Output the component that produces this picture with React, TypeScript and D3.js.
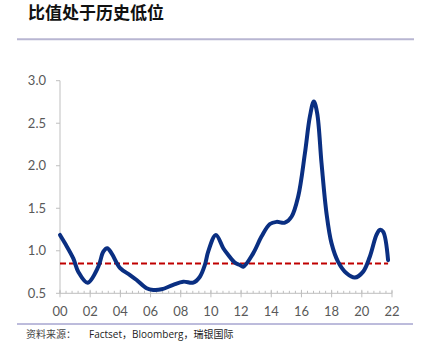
import React from "react";
import * as d3 from "d3";

const years = [2000.0, 2000.33, 2000.88, 2001.21, 2001.83, 2002.54, 2002.87, 2003.13, 2003.42, 2003.97, 2004.64, 2005.08, 2005.74, 2006.18, 2006.73, 2007.5, 2008.17, 2008.83, 2009.27, 2009.6, 2009.82, 2010.33, 2010.82, 2011.15, 2011.59, 2011.92, 2012.14, 2012.8, 2013.36, 2013.91, 2014.35, 2014.9, 2015.34, 2015.78, 2016.23, 2016.56, 2016.82, 2017.04, 2017.33, 2017.66, 2017.99, 2018.43, 2018.99, 2019.54, 2020.09, 2020.53, 2020.97, 2021.19, 2021.41, 2021.74];
const ratio = [1.186, 1.088, 0.91, 0.754, 0.625, 0.813, 0.99, 1.03, 0.97, 0.8, 0.715, 0.656, 0.56, 0.54, 0.547, 0.6, 0.637, 0.625, 0.695, 0.833, 0.99, 1.186, 1.03, 0.95, 0.86, 0.833, 0.813, 0.97, 1.17, 1.315, 1.34, 1.33, 1.4, 1.636, 2.147, 2.58, 2.755, 2.62, 2.03, 1.44, 1.09, 0.87, 0.735, 0.685, 0.755, 0.93, 1.186, 1.245, 1.225, 0.89];
const threshold = 0.85;
const yTicks = [0.5, 1.0, 1.5, 2.0, 2.5, 3.0];
const xMajorTicks = [2000, 2002, 2004, 2006, 2008, 2010, 2012, 2014, 2016, 2018, 2020, 2022];
const xTickLabels = ["00", "02", "04", "06", "08", "10", "12", "14", "16", "18", "20", "22"];
const title = "比值处于历史低位";
const sourceLabel = "资料来源：";
const sourceText = "Factset，Bloomberg，瑞银国际";

export default function App() {
  const W = 425, H = 358;
  const x = d3.scaleLinear().domain([2000, 2022]).range([60, 392]);
  const y = d3.scaleLinear().domain([0.5, 3.0]).range([293.3, 80.7]);
  const data = years.map((t, i) => [t, ratio[i]] as [number, number]);
  const line = d3.line<[number, number]>().x(d => x(d[0])).y(d => y(d[1])).curve(d3.curveCatmullRom.alpha(0.5));
  const minorTicks = d3.range(0, 56).map(i => 2000 + i * 0.4).filter(v => v <= 2022.001);
  const axisColor = "#bfbfbf";
  const labelColor = "#595959";
  const font = "Lato, 'Open Sans', sans-serif";
  return (
    <svg width={W} height={H} style={{ position: "absolute", left: 0, top: 0, background: "#fff" }}>
      <text x={28} y={19} fontFamily="'Noto Sans CJK SC'" fontWeight={700} fontSize={17} fill="#111">{title}</text>
      <line x1={17} x2={414} y1={39.3} y2={39.3} stroke="#b8b6d2" strokeWidth={2} />
      {/* y axis */}
      <line x1={60} x2={60} y1={y(3.0)} y2={y(0.5)} stroke={axisColor} strokeWidth={1} />
      {yTicks.map(t => (
        <g key={t}>
          <line x1={56} x2={60} y1={y(t)} y2={y(t)} stroke={axisColor} />
          <text x={46} y={y(t)} dy="0.35em" textAnchor="end" fontFamily={font} fontSize={13} fill={labelColor}>{t.toFixed(1)}</text>
        </g>
      ))}
      {/* x axis */}
      <line x1={x(2000)} x2={x(2022)} y1={y(0.5)} y2={y(0.5)} stroke={axisColor} strokeWidth={1} />
      {minorTicks.map((t, i) => (
        <line key={"m" + i} x1={x(t)} x2={x(t)} y1={y(0.5) - 2.5} y2={y(0.5)} stroke={axisColor} />
      ))}
      {xMajorTicks.map((t, i) => (
        <g key={t}>
          <line x1={x(t)} x2={x(t)} y1={y(0.5) - 3.5} y2={y(0.5) + 4} stroke={axisColor} />
          <text x={x(t)} y={311.7} dy="0.35em" textAnchor="middle" fontFamily={font} fontSize={13} fill={labelColor}>{xTickLabels[i]}</text>
        </g>
      ))}
      <line x1={x(2000)} x2={x(years[years.length - 1])} y1={y(threshold)} y2={y(threshold)} stroke="#c00000" strokeWidth={2} strokeDasharray="6,3" />
      <path d={line(data) || ""} fill="none" stroke="#0a2f82" strokeWidth={4} strokeLinejoin="round" strokeLinecap="round" />
      <line x1={17} x2={413} y1={324} y2={324} stroke="#7b78b8" strokeWidth={1} />
      <text x={26} y={338} fontFamily="'Noto Sans CJK SC'" fontSize={10} fill="#444">{sourceLabel}</text>
      <text x={89} y={338} fontFamily="'Open Sans', 'Noto Sans CJK SC', sans-serif" fontSize={10} fill="#222">{sourceText}</text>
    </svg>
  );
}
